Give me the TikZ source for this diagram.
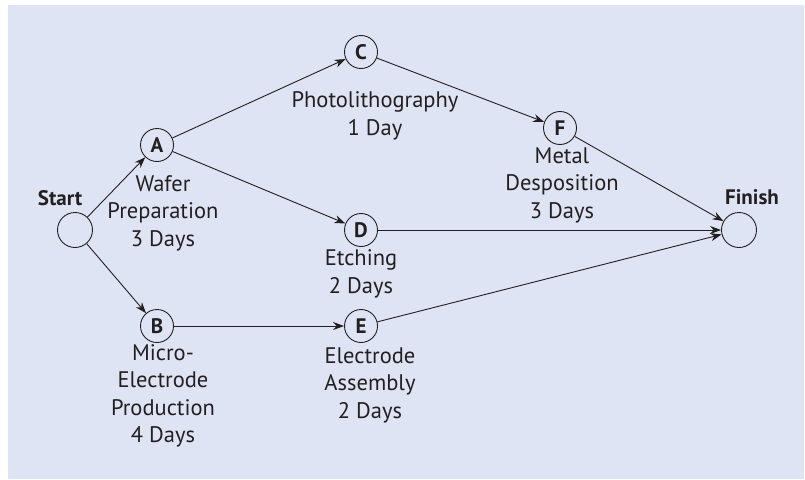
\documentclass[tikz,border=0pt]{standalone}
\usepackage{fontspec}
\setmainfont{PT Sans}
\usetikzlibrary{arrows.meta}
\definecolor{bgc}{HTML}{DFE4F4}
\definecolor{ink}{HTML}{231F20}
\tikzset{
  ev/.style={circle,draw=ink,line width=0.9pt,minimum size=33pt,inner sep=0pt,font=\fontsize{21}{24}\selectfont\bfseries,text=ink},
  se/.style={circle,draw=ink,line width=0.9pt,minimum size=35pt,inner sep=0pt},
  lbl/.style={align=center,font=\fontsize{22.5}{27.5}\selectfont,text=ink,inner sep=0pt},
  blbl/.style={font=\fontsize{21}{24}\selectfont\bfseries,text=ink,inner sep=0pt},
  arr/.style={draw=ink,line width=0.9pt,-{Stealth[length=11pt,width=8pt]}}
}
\begin{document}
\begin{tikzpicture}[x=1pt,y=-1pt]
\useasboundingbox (0,0) rectangle (805,479);
\fill[white] (0,0) rectangle (805,479);
\fill[bgc] (8,5) rectangle (804,479);
\node[se] (S) at (75,230) {};
\node[ev] (A) at (157,145) {A};
\node[ev] (B) at (157,326) {B};
\node[ev] (C) at (361,52) {C};
\node[ev] (D) at (361,230) {D};
\node[ev] (E) at (361,326) {E};
\node[ev] (F) at (560,128) {F};
\node[se] (Fi) at (739,230) {};
\node[blbl] (tS) at (60,198) {Start};
\node[blbl] (tF) at (752,197) {Finish};
\node[lbl] (lA) at (163,213) {Wafer\\Preparation\\3 Days};
\node[lbl] (lC) at (375,116) {Photolithography\\1 Day};
\node[lbl] (lF) at (562,185) {Metal\\Desposition\\3 Days};
\node[lbl] (lD) at (361,274) {Etching\\2 Days};
\node[lbl] (lB) at (163,396) {Micro-\\Electrode\\Production\\4 Days};
\node[lbl] (lE) at (370,385) {Electrode\\Assembly\\2 Days};
\draw[arr] (S) -- (A);
\draw[arr] (S) -- (B);
\draw[arr] (A) -- (C);
\draw[arr] (A) -- (D);
\draw[arr] (C) -- (F);
\draw[arr] (B) -- (E);
\draw[arr] (F) -- (Fi);
\draw[arr] (D.east) -- (Fi.west);
\draw[arr] (E) -- (Fi);
\end{tikzpicture}
\end{document}
